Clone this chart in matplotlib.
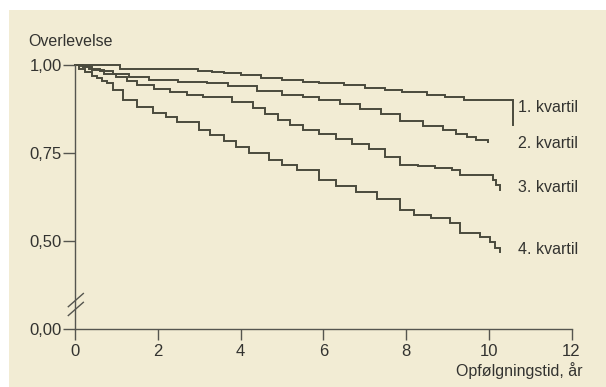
import matplotlib
matplotlib.use("Agg")
import matplotlib.pyplot as plt
from matplotlib.patches import Rectangle

# Kaplan-Meier style survival per quartile (time in years, survival)
q1_time = [0, 1.09, 2.97, 3.3, 3.6, 4.0, 4.5, 5.0, 5.5, 5.9, 6.5, 7.0, 7.5,
           7.9, 8.5, 8.95, 9.4, 10.58]
q1_surv = [1.0, 0.989, 0.983, 0.98, 0.977, 0.972, 0.964, 0.958, 0.952, 0.948,
           0.942, 0.935, 0.928, 0.922, 0.915, 0.908, 0.90, 0.83]

q2_time = [0, 0.15, 0.35, 0.6, 0.92, 1.3, 1.8, 2.5, 3.2, 3.7, 4.4, 5.0, 5.5,
           5.9, 6.4, 6.9, 7.4, 7.85, 8.4, 8.9, 9.2, 9.47, 9.7, 9.98]
q2_surv = [1.0, 0.996, 0.99, 0.982, 0.974, 0.966, 0.958, 0.952, 0.948, 0.94,
           0.925, 0.915, 0.908, 0.90, 0.89, 0.876, 0.86, 0.84, 0.828, 0.815,
           0.805, 0.795, 0.786, 0.781]

q3_time = [0, 0.2, 0.4, 0.7, 1.0, 1.25, 1.5, 1.9, 2.3, 2.7, 3.1, 3.8, 4.3,
           4.6, 4.9, 5.2, 5.5, 5.9, 6.3, 6.7, 7.1, 7.5, 7.85, 8.3, 8.7, 9.1,
           9.3, 10.1, 10.18, 10.27]
q3_surv = [1.0, 0.993, 0.985, 0.975, 0.966, 0.955, 0.943, 0.932, 0.923, 0.915,
           0.909, 0.895, 0.878, 0.862, 0.844, 0.83, 0.815, 0.805, 0.79, 0.775,
           0.76, 0.74, 0.716, 0.712, 0.708, 0.702, 0.688, 0.672, 0.658, 0.645]

q4_time = [0, 0.1, 0.25, 0.4, 0.53, 0.65, 0.77, 0.92, 1.16, 1.5, 1.88, 2.2,
           2.46, 3.0, 3.26, 3.6, 3.9, 4.2, 4.7, 5.0, 5.36, 5.9, 6.3, 6.8, 7.3,
           7.85, 8.2, 8.6, 9.06, 9.3, 9.78, 10.02, 10.15, 10.27]
q4_surv = [1.0, 0.99, 0.98, 0.97, 0.962, 0.955, 0.949, 0.93, 0.90, 0.881,
           0.864, 0.852, 0.838, 0.815, 0.801, 0.785, 0.767, 0.75, 0.73, 0.716,
           0.702, 0.673, 0.655, 0.64, 0.618, 0.588, 0.575, 0.565, 0.551, 0.523,
           0.511, 0.497, 0.48, 0.469]

series_labels = ["1. kvartil", "2. kvartil", "3. kvartil", "4. kvartil"]
label_y = [0.878, 0.778, 0.653, 0.477]

# y axis is broken: the bottom tick stands for 0,00
y_ticks = [0.25, 0.50, 0.75, 1.00]
y_ticklabels = ["0,00", "0,50", "0,75", "1,00"]
x_ticks = [0, 2, 4, 6, 8, 10, 12]

BG = "#f2ecd4"
INK = "#333330"
AXIS = "#55554f"
CURVE = "#4a4a3c"

plt.rcParams["font.family"] = ["Liberation Sans", "DejaVu Sans"]

fig = plt.figure(figsize=(6.06, 3.87), dpi=100)
fig.patch.set_facecolor("white")
fig.patches.append(Rectangle((9 / 606, 0), 1 - 9 / 606, 377 / 387,
                             transform=fig.transFigure, facecolor=BG,
                             edgecolor="none", zorder=-10))

ax = fig.add_axes([75 / 606, 58 / 387, 496.5 / 606, 264 / 387])
ax.set_zorder(1)
ax.set_facecolor("none")

curves = [(q1_time, q1_surv), (q2_time, q2_surv),
          (q3_time, q3_surv), (q4_time, q4_surv)]
for t, s in curves:
    ax.plot(t, s, drawstyle="steps-post", color=CURVE, lw=1.4,
            clip_on=False, solid_joinstyle="miter")

for lab, ly in zip(series_labels, label_y):
    ax.text(10.70, ly, lab, fontsize=11.5, color=INK, va="center", ha="left")

ax.set_xlim(0, 12)
ax.set_ylim(0.25, 1.0)
ax.set_xticks(x_ticks)
ax.set_xticklabels([str(v) for v in x_ticks], fontsize=12, color=INK)
ax.set_yticks(y_ticks)
ax.set_yticklabels(y_ticklabels, fontsize=12, color=INK)

for side in ["top", "right"]:
    ax.spines[side].set_visible(False)
for side in ["left", "bottom"]:
    ax.spines[side].set_color(AXIS)
    ax.spines[side].set_linewidth(1.0)

ax.tick_params(axis="y", length=8.5, width=1.0, color=AXIS, pad=1)
ax.tick_params(axis="x", length=8, width=1.0, color=AXIS, pad=3)

# axis break marks
for y0 in [0.0845, 0.051]:
    ax.plot([-0.0135, 0.0168], [y0, y0 + 0.05], transform=ax.transAxes,
            color=AXIS, lw=1.0, clip_on=False)

fig.text(28 / 606, 1 - 42 / 387, "Overlevelse", fontsize=11.5, color=INK,
         ha="left", va="center")
fig.text(582 / 606, 1 - 371 / 387, "Opfølgningstid, år", fontsize=11.5,
         color=INK, ha="right", va="center")

fig.savefig("out.png", dpi=100, facecolor=fig.get_facecolor())
